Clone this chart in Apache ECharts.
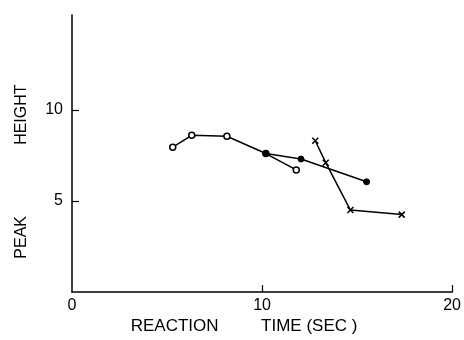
<!DOCTYPE html>
<html>
<head>
<meta charset="utf-8">
<script src="https://cdn.jsdelivr.net/npm/echarts@6/dist/echarts.min.js"></script>
<style>
  html, body { margin: 0; padding: 0; background: #fff; }
  #main { width: 464px; height: 340px; }
</style>
</head>
<body>
<div id="main"></div>
<script>
// data: [reaction time (sec), peak height]
var openCircles = [[5.3, 7.95], [6.3, 8.6], [8.15, 8.55], [10.2, 7.6], [11.8, 6.7]];
var filledDots = [[10.2, 7.6], [12.05, 7.3], [15.5, 6.05]];
var crosses = [[12.8, 8.3], [13.35, 7.1], [14.65, 4.5], [17.35, 4.25]];
var xTicks = [0, 10, 20];
var yTicks = [5, 10];

var myChart = echarts.init(document.getElementById("main"));
var font = "Liberation Sans";
var crossPath = "path://M0,0L10,10M10,0L0,10";

var option = {
    backgroundColor: "#fff",
    animation: false,
    grid: {
        left: 72,
        right: 10,
        top: 15,
        bottom: 39,
    },
    xAxis: {
        type: "value",
        min: 0,
        max: 20,
        interval: 10,
        name: "REACTION         TIME (SEC )",
        nameLocation: "middle",
        nameGap: 19,
        nameTextStyle: { color: "#000", fontFamily: font, fontSize: 17, padding: [0, 36, 0, 0] },
        splitLine: { show: false },
        axisLine: { lineStyle: { color: "#000", width: 1.5 } },
        axisTick: { inside: true, length: 7, customValues: [10, 20], lineStyle: { color: "#000", width: 1.2 } },
        axisLabel: { customValues: xTicks, color: "#000", fontFamily: font, fontSize: 16, margin: 5 },
    },
    yAxis: {
        type: "value",
        min: 0,
        max: 15.2,
        interval: 5,
        name: "PEAK                HEIGHT",
        nameLocation: "middle",
        nameRotate: 90,
        nameGap: 42,
        nameTextStyle: { color: "#000", fontFamily: font, fontSize: 16, padding: [0, 36, 0, 0] },
        splitLine: { show: false },
        axisLine: { onZero: false, lineStyle: { color: "#000", width: 1.5 } },
        axisTick: { inside: true, length: 7, customValues: yTicks, lineStyle: { color: "#000", width: 1.2 } },
        axisLabel: { customValues: yTicks, color: "#000", fontFamily: font, fontSize: 16, margin: 9 },
    },
    series: [
        {
            type: "line",
            data: openCircles,
            symbol: "circle",
            symbolSize: 6,
            lineStyle: { color: "#000", width: 1.5 },
            itemStyle: { color: "#fff", borderColor: "#000", borderWidth: 1.5 },
        },
        {
            type: "line",
            data: filledDots,
            symbol: "circle",
            symbolSize: 6,
            lineStyle: { color: "#000", width: 1.5 },
            itemStyle: { color: "#000", borderColor: "#000", borderWidth: 1 },
        },
        {
            type: "line",
            data: crosses,
            symbol: crossPath,
            symbolSize: 6,
            lineStyle: { color: "#000", width: 1.5 },
            itemStyle: { color: "none", borderColor: "#000", borderWidth: 1.5 },
        },
    ],
};
option && myChart.setOption(option);
</script>
</body>
</html>
